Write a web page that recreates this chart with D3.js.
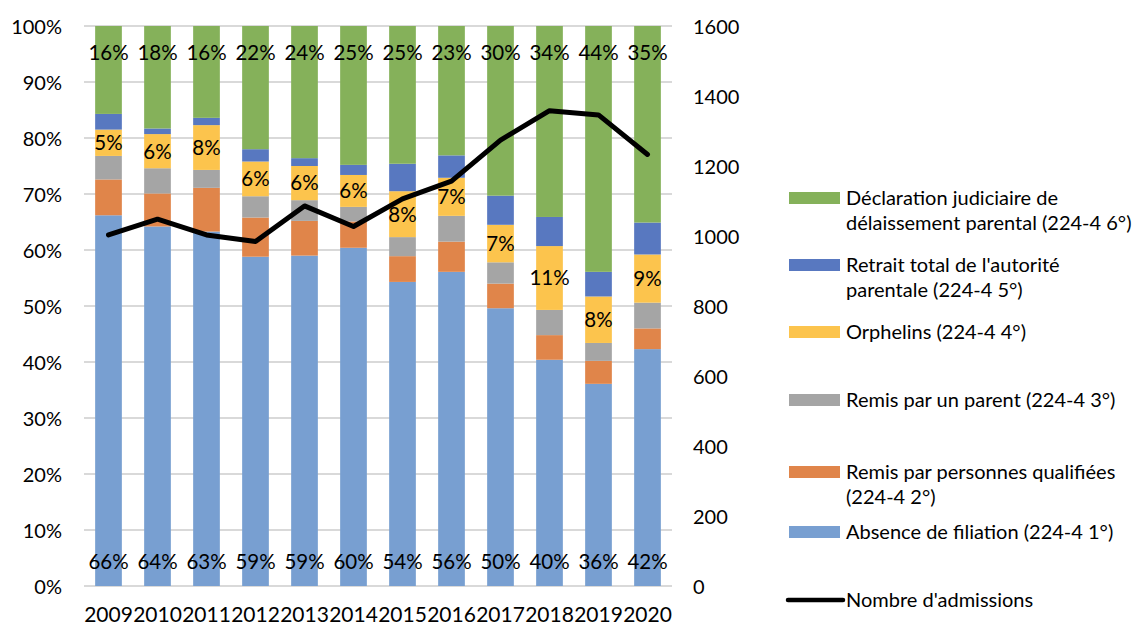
<!DOCTYPE html>
<html>
<head>
<meta charset="utf-8">
<script src="https://cdnjs.cloudflare.com/ajax/libs/d3/7.8.5/d3.min.js"></script>
<style>
  body { margin: 0; background: #fff; }
  text { font-family: Lato, "Open Sans", sans-serif; fill: #000; }
  .grid line { stroke: #d9d9d9; stroke-width: 2; }
</style>
</head>
<body>
<div id="chart"></div>
<script>
// Data
var years = ["2009", "2010", "2011", "2012", "2013", "2014", "2015", "2016", "2017", "2018", "2019", "2020"];

// share of each admission reason, in %
var absenceFiliation = [66.2, 64.2, 63.3, 58.8, 59.0, 60.4, 54.3, 56.1, 49.6, 40.4, 36.1, 42.3];
var remisQualifiees  = [6.4, 5.9, 7.8, 7.0, 6.2, 4.7, 4.6, 5.4, 4.4, 4.4, 4.1, 3.7];
var remisParent      = [4.2, 4.5, 3.2, 3.8, 3.7, 2.6, 3.4, 4.6, 3.8, 4.5, 3.2, 4.6];
var orphelins        = [4.7, 6.1, 8.0, 6.2, 6.1, 5.7, 8.2, 6.8, 6.7, 11.4, 8.3, 8.6];
var retraitAutorite  = [2.8, 1.0, 1.3, 2.2, 1.4, 1.8, 4.9, 4.0, 5.2, 5.2, 4.4, 5.7];
var delaissement     = [15.7, 18.3, 16.4, 22.0, 23.6, 24.8, 24.6, 23.1, 30.3, 34.1, 43.9, 35.1];

// number of admissions (right axis)
var admissions = [1003, 1048, 1003, 984, 1086, 1027, 1106, 1157, 1274, 1358, 1346, 1233];

var leftTicks = [0, 10, 20, 30, 40, 50, 60, 70, 80, 90, 100];
var rightTicks = [0, 200, 400, 600, 800, 1000, 1200, 1400, 1600];

var seriesKeys = ["absence", "qualifiees", "parent", "orphelins", "retrait", "delaissement"];
var seriesNames = {
  absence: ["Absence de filiation (224-4 1°)"],
  qualifiees: ["Remis par personnes qualifiées", "(224-4 2°)"],
  parent: ["Remis par un parent (224-4 3°)"],
  orphelins: ["Orphelins (224-4 4°)"],
  retrait: ["Retrait total de l'autorité", "parentale (224-4 5°)"],
  delaissement: ["Déclaration judiciaire de", "délaissement parental (224-4 6°)"]
};
var colors = {
  absence: "#789fd1",
  qualifiees: "#e0854a",
  parent: "#a5a5a5",
  orphelins: "#fcc44d",
  retrait: "#5878c0",
  delaissement: "#85b15a"
};

// build rows for d3.stack
var rows = years.map(function(y, i) {
  return {
    year: y,
    absence: absenceFiliation[i],
    qualifiees: remisQualifiees[i],
    parent: remisParent[i],
    orphelins: orphelins[i],
    retrait: retraitAutorite[i],
    delaissement: delaissement[i],
    admissions: admissions[i]
  };
});

var svgWidth = 1132;
var svgHeight = 625;

var margin = { top: 26, right: 460, bottom: 39, left: 84 };
var chartWidth = svgWidth - margin.left - margin.right;
var chartHeight = svgHeight - margin.top - margin.bottom;

var svg = d3.select("#chart")
  .append("svg")
  .attr("width", svgWidth)
  .attr("height", svgHeight);

var chartGroup = svg.append("g")
  .attr("transform", `translate(${margin.left}, ${margin.top})`);

// Scales
var xScale = d3.scaleBand()
  .domain(years)
  .range([0, chartWidth])
  .paddingInner(0.455)
  .paddingOuter(0.2275);

var yScale = d3.scaleLinear()
  .domain([0, 100])
  .range([chartHeight, 0]);

var y2Scale = d3.scaleLinear()
  .domain([0, 1600])
  .range([chartHeight, 0]);

// Gridlines
chartGroup.append("g")
  .attr("class", "grid")
  .selectAll("line")
  .data(leftTicks)
  .enter()
  .append("line")
  .attr("x1", 0)
  .attr("x2", chartWidth)
  .attr("y1", d => yScale(d))
  .attr("y2", d => yScale(d));

// Left axis (labels only)
var leftAxis = d3.axisLeft(yScale)
  .tickValues(leftTicks)
  .tickFormat(d => d + "%")
  .tickSize(0)
  .tickPadding(22);

chartGroup.append("g")
  .call(leftAxis)
  .call(g => g.select(".domain").remove())
  .selectAll("text")
  .style("font-size", "20px")
  .attr("dy", "0.36em");

// Right axis
var rightAxis = d3.axisRight(y2Scale)
  .tickValues(rightTicks)
  .tickFormat(d3.format("d"))
  .tickSize(0)
  .tickPadding(21);

chartGroup.append("g")
  .attr("transform", `translate(${chartWidth}, 0)`)
  .call(rightAxis)
  .call(g => g.select(".domain").remove())
  .selectAll("text")
  .style("font-size", "20px")
  .attr("dy", "0.36em");

// Bottom axis
var bottomAxis = d3.axisBottom(xScale)
  .tickSize(0)
  .tickPadding(21);

chartGroup.append("g")
  .attr("transform", `translate(0, ${chartHeight})`)
  .call(bottomAxis)
  .call(g => g.select(".domain").remove())
  .selectAll("text")
  .style("font-size", "21px");

// Stacked bars
var stacked = d3.stack().keys(seriesKeys)(rows);

var layers = chartGroup.append("g")
  .selectAll("g")
  .data(stacked)
  .enter()
  .append("g")
  .attr("fill", d => colors[d.key]);

layers.selectAll("rect")
  .data(d => d)
  .enter()
  .append("rect")
  .attr("x", d => xScale(d.data.year))
  .attr("y", d => yScale(d[1]))
  .attr("width", xScale.bandwidth())
  .attr("height", d => yScale(d[0]) - yScale(d[1]));

// Data labels: bottom series at base, top series at end, orphelins centred
var fmt = v => Math.round(v) + "%";
var labelGroup = chartGroup.append("g")
  .style("font-size", "20.5px")
  .attr("text-anchor", "middle");

labelGroup.selectAll(".lblA")
  .data(rows)
  .enter()
  .append("text")
  .attr("x", d => xScale(d.year) + xScale.bandwidth() / 2)
  .attr("y", chartHeight - 24)
  .attr("dy", "0.36em")
  .text(d => fmt(d.absence));

labelGroup.selectAll(".lblF")
  .data(rows)
  .enter()
  .append("text")
  .attr("x", d => xScale(d.year) + xScale.bandwidth() / 2)
  .attr("y", 27)
  .attr("dy", "0.36em")
  .text(d => fmt(d.delaissement));

var orphLayer = stacked.find(s => s.key === "orphelins");
labelGroup.selectAll(".lblD")
  .data(orphLayer)
  .enter()
  .append("text")
  .attr("x", d => xScale(d.data.year) + xScale.bandwidth() / 2)
  .attr("y", d => yScale((d[0] + d[1]) / 2))
  .attr("dy", "0.36em")
  .text(d => fmt(d.data.orphelins));

// Admissions line
var line = d3.line()
  .x(d => xScale(d.year) + xScale.bandwidth() / 2)
  .y(d => y2Scale(d.admissions));

chartGroup.append("path")
  .datum(rows)
  .attr("fill", "none")
  .attr("stroke", "#000")
  .attr("stroke-width", 5)
  .attr("stroke-linejoin", "round")
  .attr("stroke-linecap", "round")
  .attr("d", line);

// Legend
var legendItems = [
  { key: "delaissement", y: 198 },
  { key: "retrait", y: 265 },
  { key: "orphelins", y: 332 },
  { key: "parent", y: 400 },
  { key: "qualifiees", y: 472 },
  { key: "absence", y: 532 }
];

var legend = svg.append("g").style("font-size", "20px");

legendItems.forEach(function(item) {
  legend.append("rect")
    .attr("x", 789)
    .attr("y", item.y - 6)
    .attr("width", 51)
    .attr("height", 12)
    .attr("fill", colors[item.key]);

  var t = legend.append("text")
    .attr("x", 846)
    .attr("y", item.y);
  seriesNames[item.key].forEach(function(lineText, i) {
    t.append("tspan")
      .attr("x", 846)
      .attr("dy", i === 0 ? "0.36em" : "25px")
      .text(lineText);
  });
});

legend.append("line")
  .attr("x1", 788)
  .attr("x2", 843)
  .attr("y1", 600)
  .attr("y2", 600)
  .attr("stroke", "#000")
  .attr("stroke-width", 4.5)
  .attr("stroke-linecap", "round");

legend.append("text")
  .attr("x", 846)
  .attr("y", 600)
  .attr("dy", "0.36em")
  .text("Nombre d'admissions");
</script>
</body>
</html>
